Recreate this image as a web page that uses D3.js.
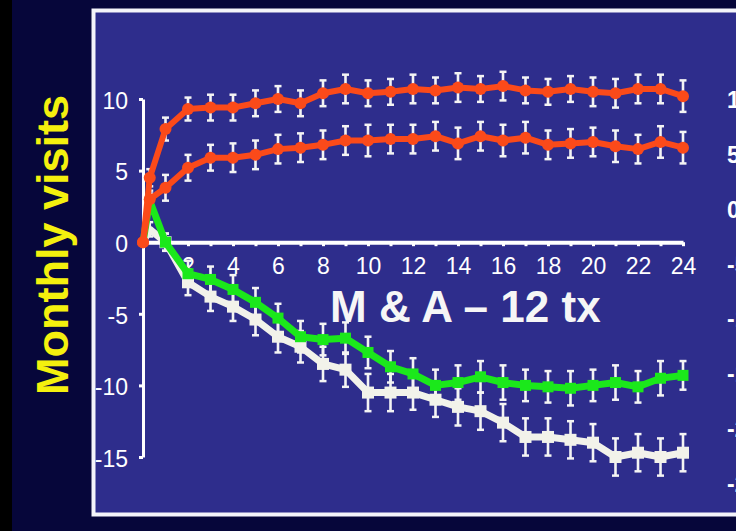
<!DOCTYPE html>
<html lang="en">
<head>
<meta charset="UTF-8">
<title>Monthly visits</title>
<style>
  html, body { margin: 0; padding: 0; background: #05052e; }
  svg { display: block; }
</style>
</head>
<body>
<svg id="chart"></svg>
<script src="https://cdn.jsdelivr.net/npm/d3@7"></script>
<script>
// time points (months), the second one is the early visit before month 1
const months = [0, 0.3, 1, 2, 3, 4, 5, 6, 7, 8, 9, 10, 11, 12, 13, 14, 15, 16, 17, 18, 19, 20, 21, 22, 23, 24];

const upperRed = [0, 4.5, 7.9, 9.3, 9.4, 9.4, 9.7, 10.0, 9.7, 10.4, 10.7, 10.4, 10.5, 10.7, 10.6, 10.8, 10.7, 10.9, 10.6, 10.5, 10.7, 10.5, 10.4, 10.7, 10.7, 10.2];
const lowerRed = [0, 3.0, 3.8, 5.2, 5.9, 5.9, 6.1, 6.5, 6.6, 6.8, 7.1, 7.1, 7.2, 7.2, 7.4, 6.9, 7.4, 7.1, 7.3, 6.8, 6.9, 7.0, 6.7, 6.5, 7.0, 6.6];
const greenLine = [0, 2.9, 0.0, -2.2, -2.6, -3.3, -4.2, -5.3, -6.6, -6.8, -6.7, -7.7, -8.7, -9.2, -10.0, -9.8, -9.4, -9.8, -10.0, -10.1, -10.2, -10.0, -9.8, -10.1, -9.5, -9.3];
const whiteLine = [0, 0.9, 0.0, -2.8, -3.8, -4.5, -5.4, -6.6, -7.3, -8.5, -8.9, -10.5, -10.5, -10.5, -11.0, -11.5, -11.8, -12.6, -13.6, -13.6, -13.8, -14.0, -15.0, -14.7, -15.0, -14.7];

// error bar half lengths
const upperErr = [0, 0.6, 0.8, 0.8, 0.9, 0.9, 0.9, 0.9, 0.9, 0.9, 1.0, 0.9, 0.9, 1.0, 0.9, 1.0, 0.9, 1.0, 0.9, 0.9, 0.9, 1.0, 1.0, 1.0, 1.0, 1.1];
const lowerErr = [0, 0.6, 0.9, 0.9, 0.9, 1.0, 1.0, 1.0, 1.0, 1.0, 1.0, 1.1, 1.0, 1.0, 1.0, 1.1, 1.0, 1.1, 1.1, 1.0, 1.0, 1.0, 1.1, 1.0, 1.1, 1.1];
const greenErr = [0, 0.5, 0.6, 0.9, 0.9, 1.0, 1.0, 1.0, 1.1, 1.1, 1.1, 1.1, 1.1, 1.1, 1.1, 1.2, 1.1, 1.2, 1.1, 1.1, 1.2, 1.1, 1.2, 1.1, 1.2, 1.0];
const whiteErr = [0, 0.5, 0.6, 0.9, 1.0, 1.0, 1.1, 1.1, 1.1, 1.2, 1.2, 1.3, 1.3, 1.2, 1.2, 1.3, 1.3, 1.3, 1.3, 1.3, 1.3, 1.3, 1.3, 1.3, 1.3, 1.3];

const yTicks = [10, 5, 0, -5, -10, -15];
const xTicks = [1, 2, 3, 4, 5, 6, 7, 8, 9, 10, 11, 12, 13, 14, 15, 16, 17, 18, 19, 20, 21, 22, 23, 24];
// pieces of the next panel's labels cut by the window edge
const edgeLabels = ["10", "5", "0", "-5", "-10", "-15", "-20", "-25"];

const W = 736, H = 531;
const font = "Liberation Sans, Arial, sans-serif";
const svg = d3.select("#chart").attr("width", W).attr("height", H);

// backgrounds
svg.append("rect").attr("width", W).attr("height", H).attr("fill", "#06063a");
svg.append("rect").attr("width", 12).attr("height", H).attr("fill", "#000");
svg.append("rect")
    .attr("x", 93.5).attr("y", 10.5).attr("width", 720).attr("height", 504)
    .attr("fill", "#2e2d8c").attr("stroke", "#f4f4fa").attr("stroke-width", 4);

const x = d3.scaleLinear().domain([0, 24]).range([143, 683]);
const y = d3.scaleLinear().domain([-15, 10]).range([457, 99]);

// y axis
const yAxis = svg.append("g")
    .attr("transform", "translate(" + x(0) + ",0)")
    .call(d3.axisLeft(y).tickValues(yTicks).tickSize(4).tickPadding(11).tickSizeOuter(0)
        .tickFormat(function (d) { return String(d); }));
yAxis.select(".domain").attr("stroke", "#fff").attr("stroke-width", 3);
yAxis.selectAll(".tick line").attr("stroke", "#fff").attr("stroke-width", 3);
yAxis.selectAll("text")
    .attr("fill", "#fff")
    .attr("font-family", font)
    .attr("font-size", "23px")
    .attr("dy", "0.4em");

// x axis sits on the zero line
const xAxis = svg.append("g")
    .attr("transform", "translate(0," + y(0) + ")")
    .call(d3.axisBottom(x).tickValues(xTicks).tickSize(4).tickPadding(11).tickSizeOuter(0)
        .tickFormat(function (d) { return d % 2 === 0 ? String(d) : ""; }));
xAxis.select(".domain").attr("stroke", "#fff").attr("stroke-width", 4);
xAxis.selectAll(".tick line").attr("stroke", "#fff").attr("stroke-width", 3);
xAxis.selectAll("text")
    .attr("fill", "#fff")
    .attr("font-family", font)
    .attr("font-size", "23px");

const series = [
    { name: "white", values: whiteLine, err: whiteErr, color: "#f2f2ea", width: 7, marker: "square", size: 12 },
    { name: "green", values: greenLine, err: greenErr, color: "#1be81b", width: 7, marker: "square", size: 11 },
    { name: "lowerRed", values: lowerRed, err: lowerErr, color: "#fb4a1a", width: 6, marker: "circle", size: 6 },
    { name: "upperRed", values: upperRed, err: upperErr, color: "#fb4a1a", width: 6, marker: "circle", size: 6 }
];

// error bars first, lines go over them
const bars = svg.append("g").attr("class", "errbars");
series.forEach(function (s) {
    const pts = months.map(function (m, i) { return { m: m, v: s.values[i], e: s.err[i] }; })
        .filter(function (d) { return d.e > 0; });
    const g = bars.append("g");
    g.selectAll("line.stem").data(pts).enter().append("line")
        .attr("x1", function (d) { return x(d.m); })
        .attr("x2", function (d) { return x(d.m); })
        .attr("y1", function (d) { return y(d.v + d.e); })
        .attr("y2", function (d) { return y(d.v - d.e); })
        .attr("stroke", "#f4f4f4").attr("stroke-width", 2.6);
    [1, -1].forEach(function (sign) {
        g.selectAll(null).data(pts).enter().append("line")
            .attr("x1", function (d) { return x(d.m) - 3.5; })
            .attr("x2", function (d) { return x(d.m) + 3.5; })
            .attr("y1", function (d) { return y(d.v + sign * d.e); })
            .attr("y2", function (d) { return y(d.v + sign * d.e); })
            .attr("stroke", "#f4f4f4").attr("stroke-width", 2.5);
    });
});

const line = d3.line()
    .x(function (d) { return x(d.m); })
    .y(function (d) { return y(d.v); });

series.forEach(function (s) {
    const pts = months.map(function (m, i) { return { m: m, v: s.values[i] }; });
    const g = svg.append("g").attr("class", "series " + s.name);
    g.append("path").datum(pts)
        .attr("d", line)
        .attr("fill", "none")
        .attr("stroke", s.color)
        .attr("stroke-width", s.width)
        .attr("stroke-linejoin", "round");
    if (s.marker === "circle") {
        g.selectAll("circle").data(pts).enter().append("circle")
            .attr("cx", function (d) { return x(d.m); })
            .attr("cy", function (d) { return y(d.v); })
            .attr("r", s.size)
            .attr("fill", s.color);
    } else {
        g.selectAll("rect").data(pts.slice(2)).enter().append("rect")
            .attr("x", function (d) { return x(d.m) - s.size / 2; })
            .attr("y", function (d) { return y(d.v) - s.size / 2; })
            .attr("width", s.size).attr("height", s.size)
            .attr("fill", s.color);
    }
});

// titles
svg.append("text")
    .attr("transform", "translate(68,245) rotate(-90)")
    .attr("text-anchor", "middle")
    .attr("fill", "#f4f00e")
    .attr("font-family", font)
    .attr("font-weight", "bold")
    .attr("font-size", "45px")
    .text("Monthly visits");

svg.append("text")
    .attr("x", 330).attr("y", 322)
    .attr("fill", "#f6f6f6")
    .attr("font-family", font)
    .attr("font-weight", "bold")
    .attr("font-size", "44px")
    .text("M & A \u2013 12 tx");

// label fragments at the right edge
const edgeY = d3.scalePoint().domain(edgeLabels).range([108, 492]);
svg.append("g").selectAll("text").data(edgeLabels).enter().append("text")
    .attr("x", 727)
    .attr("y", function (d) { return edgeY(d); })
    .attr("fill", "#fff")
    .attr("font-family", font)
    .attr("font-weight", "bold")
    .attr("font-size", "23px")
    .text(function (d) { return d; });
</script>
</body>
</html>
